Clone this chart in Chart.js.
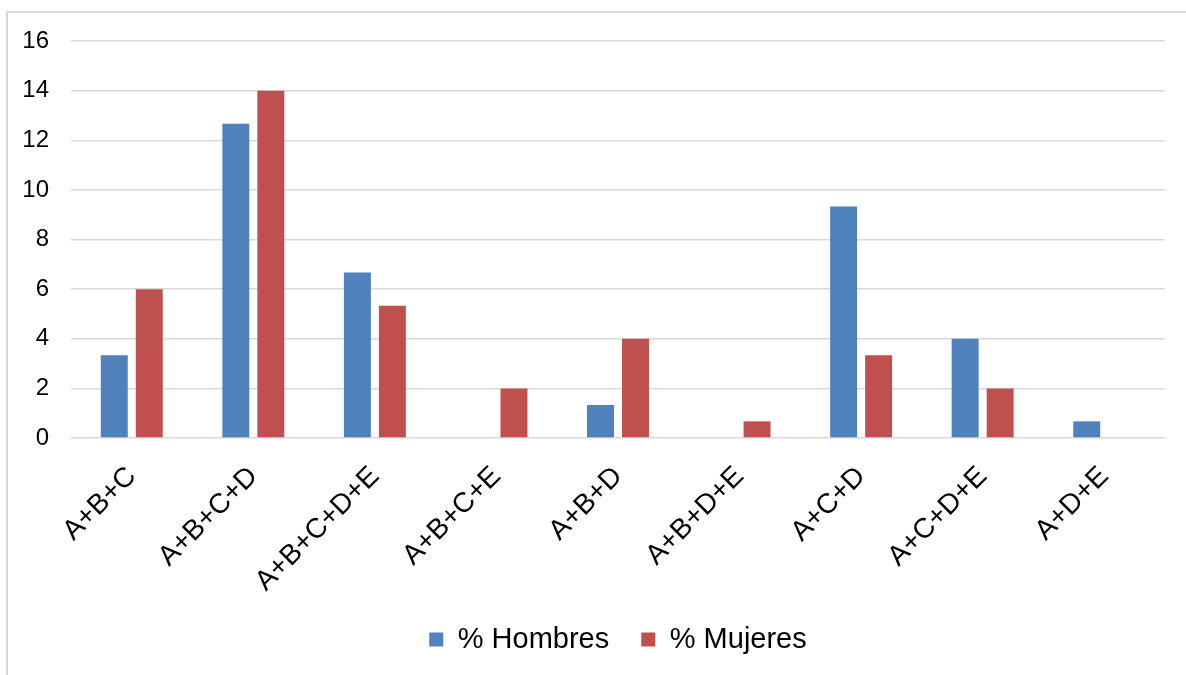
<!DOCTYPE html>
<html>
<head>
<meta charset="utf-8">
<script src="https://cdn.jsdelivr.net/npm/chart.js@4/dist/chart.umd.min.js"></script>
<style>
  html, body { margin: 0; padding: 0; background: #fff; overflow: hidden; }
  #frame { position: absolute; left: 6px; top: 11px; width: 1200px; height: 700px; border: 2px solid #d9d9d9; box-sizing: border-box; }
  #wrap { position: absolute; left: 0; top: 0; width: 1186px; height: 675px; }
</style>
</head>
<body>
<div id="frame"></div>
<div id="wrap"><canvas id="chart" width="1186" height="675"></canvas></div>
<script>
// Combinaciones de respuestas
const categories = ['A+B+C', 'A+B+C+D', 'A+B+C+D+E', 'A+B+C+E', 'A+B+D', 'A+B+D+E', 'A+C+D', 'A+C+D+E', 'A+D+E'];
const hombres = [3.33, 12.67, 6.67, 0, 1.33, 0, 9.33, 4.0, 0.67];
const mujeres = [6.0, 14.0, 5.33, 2.0, 4.0, 0.67, 3.33, 2.0, 0];
const yTicks = [0, 2, 4, 6, 8, 10, 12, 14, 16];

const FONT = "'Liberation Sans', Arial, sans-serif";

// Center the legend under the plot area rather than the whole canvas
const legendUnderPlot = {
  id: 'legendUnderPlot',
  afterLayout(chart) {
    const lg = chart.legend;
    if (!lg) return;
    const plotMid = (chart.chartArea.left + chart.chartArea.right) / 2;
    const shift = plotMid - (lg.left + lg.right) / 2;
    lg.left += shift;
    lg.right += shift;
  }
};

new Chart(document.getElementById('chart'), {
  type: 'bar',
  data: {
    labels: categories,
    datasets: [
      { label: '% Hombres', data: hombres, backgroundColor: '#4F81BD', borderWidth: 0 },
      { label: '% Mujeres', data: mujeres, backgroundColor: '#C0504D', borderWidth: 0 }
    ]
  },
  plugins: [legendUnderPlot],
  options: {
    responsive: false,
    animation: false,
    devicePixelRatio: 1,
    layout: { padding: { left: 0, top: 41, right: 21, bottom: 11 } },
    datasets: { bar: { categoryPercentage: 0.576, barPercentage: 0.77 } },
    plugins: {
      tooltip: { enabled: false },
      legend: {
        position: 'bottom',
        labels: {
          font: { family: FONT, size: 29 },
          color: '#000',
          boxWidth: 14,
          boxHeight: 14,
          padding: 32
        }
      }
    },
    scales: {
      x: {
        grid: { display: false },
        border: { display: false },
        ticks: {
          font: { family: FONT, size: 28 },
          color: '#000',
          minRotation: 45,
          maxRotation: 45,
          padding: 14
        },
        afterFit: (s) => { s.height = 155; }
      },
      y: {
        min: 0,
        max: 16,
        afterBuildTicks: (s) => { s.ticks = yTicks.map(v => ({ value: v })); },
        grid: { color: '#d9d9d9', lineWidth: 1.5, drawTicks: false },
        border: { display: false },
        ticks: {
          font: { family: FONT, size: 24 },
          color: '#000',
          padding: 22
        },
        afterFit: (s) => { s.width = 71; }
      }
    }
  }
});
</script>
</body>
</html>
